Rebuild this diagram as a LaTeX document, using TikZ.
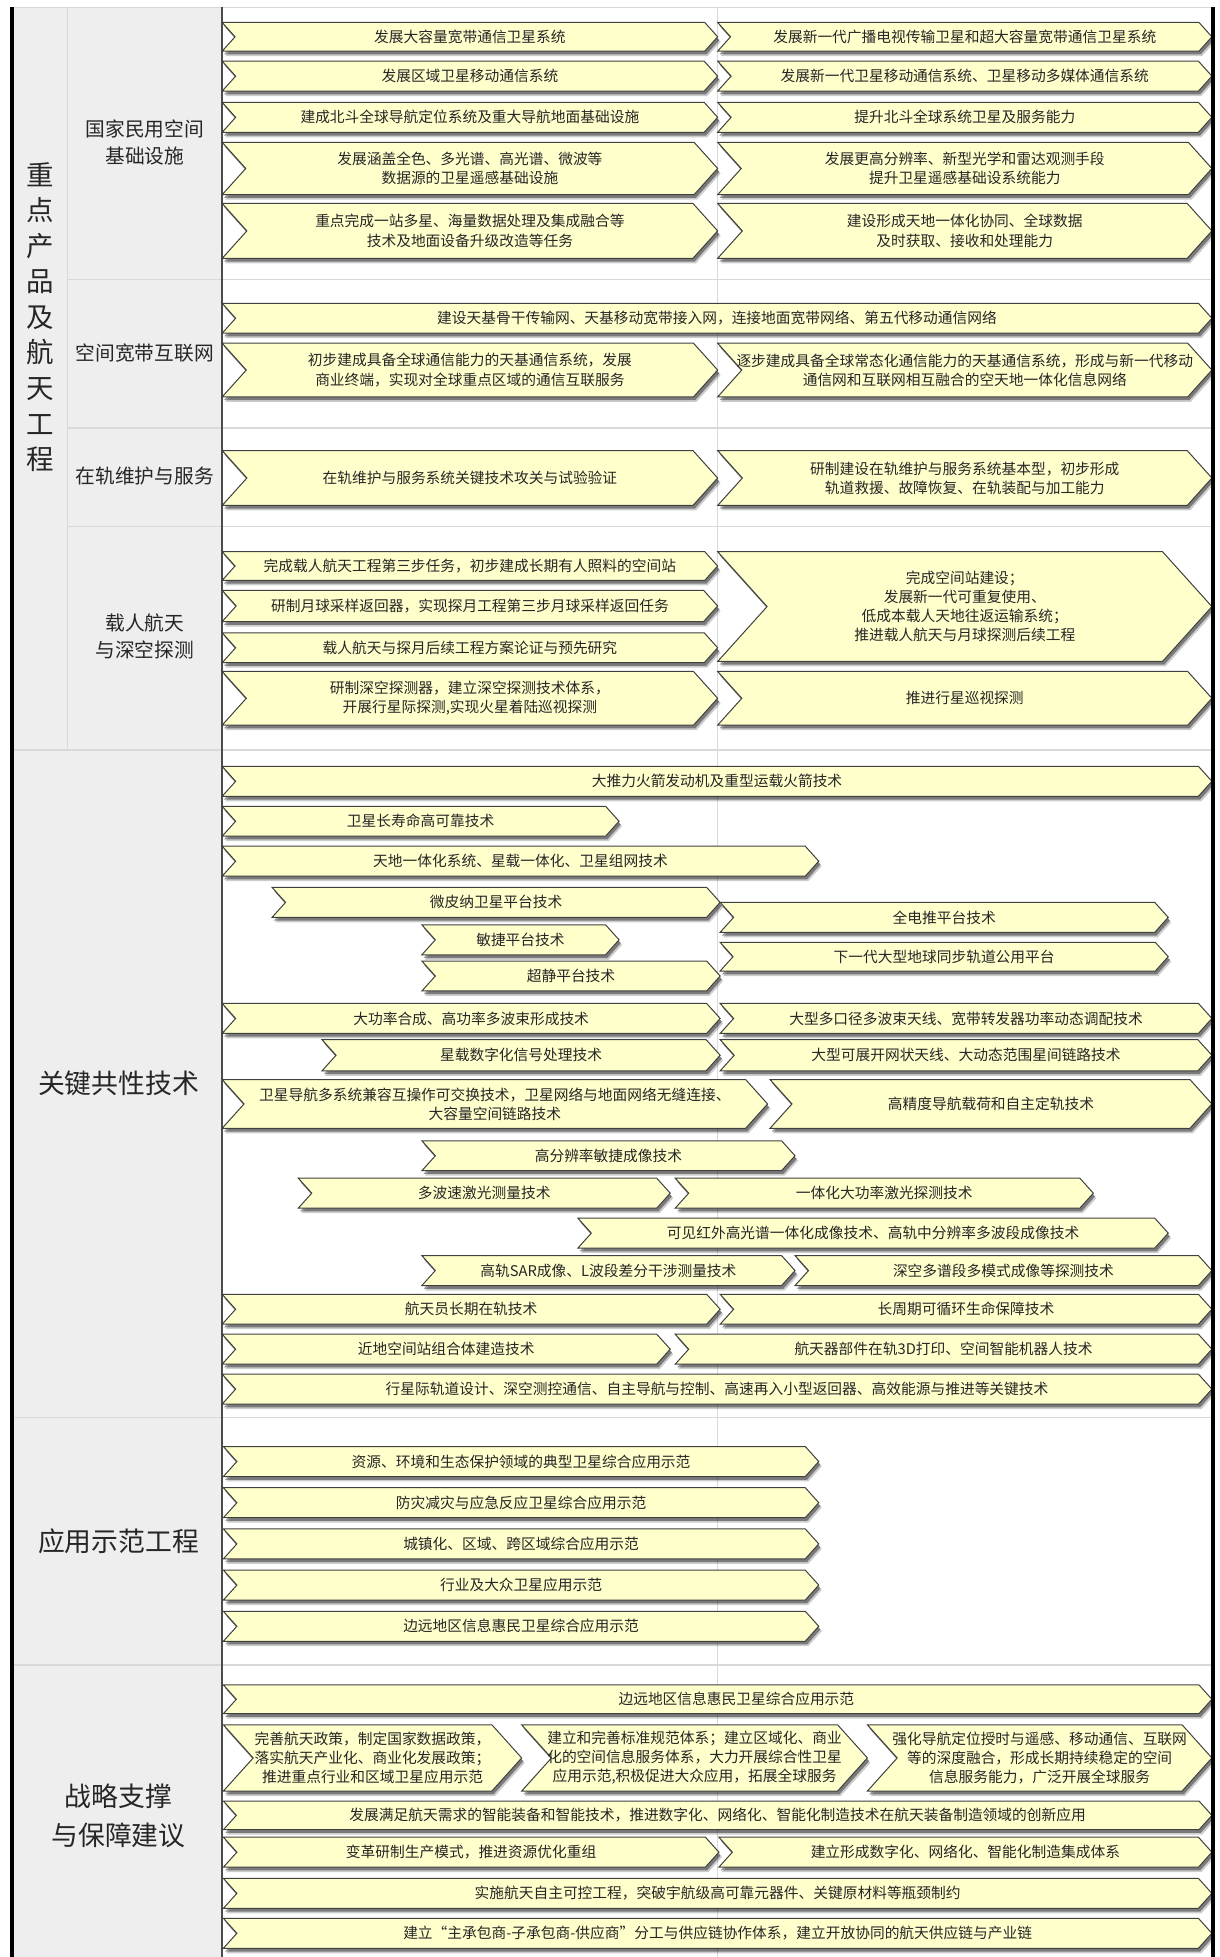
\documentclass[tikz,border=0pt]{standalone}
\usepackage{fontspec}
\setmainfont{Noto Sans CJK SC}
\definecolor{chevfill}{HTML}{FFFFCC}
\definecolor{colgray}{HTML}{EEEEEE}
\definecolor{gridgray}{HTML}{D9D9D9}
\definecolor{txtgray}{HTML}{262626}

\tikzset{
  chevbox/.style = {fill=chevfill, draw=black!75, line width=0.8pt, line join=miter},
  chevtext/.style = {align=center, inner sep=0pt, text=txtgray, font=\fontsize{11.8}{15.3}\selectfont},
  catlabel/.style = {align=center, inner sep=0pt, text=txtgray, font=\fontsize{21.5}{31}\selectfont},
  sublabel/.style = {align=center, inner sep=0pt, text=txtgray, font=\fontsize{15.8}{22}\selectfont},
  gridline/.style = {draw=gridgray, line width=1pt}
}

% [text shift]{name}{left}{right}{top}{bottom}{text}
\newcommand{\chev}[7][0]{%
  \pgfmathsetmacro{\chd}{0.45*(#6-#5)}%
  \pgfmathsetmacro{\chm}{0.5*(#5+#6)}%
  \foreach \sx/\sy/\so in {2.4/4/0.2, 1.4/2.6/0.4}{
    \fill[black, opacity=\so, shift={(\sx,\sy)}] (#3,#5) -- ({#4-\chd},#5) -- (#4,\chm) -- ({#4-\chd},#6) -- (#3,#6) -- ({#3+\chd},\chm) -- cycle;
  }
  \filldraw[chevbox] (#3,#5) -- ({#4-\chd},#5) -- (#4,\chm) -- ({#4-\chd},#6) -- (#3,#6) -- ({#3+\chd},\chm) -- cycle;
  \node[chevtext] (#2) at ({0.5*(#3+#4)+#1},\chm) {#7};
}

\begin{document}
\begin{tikzpicture}[x=1pt, y=-1pt]
    \useasboundingbox (0,0) rectangle (977,1568);
    \fill[colgray] (11,6) rectangle (178,1568);
    \draw[gridline] (11,6) -- (971,6);
    \draw[gridline] (54,6) -- (54,601);
    \draw[gridline] (54,224) -- (971,224);
    \draw[gridline] (54,343) -- (971,343);
    \draw[gridline] (54,422) -- (971,422);
    \draw[gridline] (11,601) -- (971,601);
    \draw[gridline] (11,1136) -- (971,1136);
    \draw[gridline] (11,1334) -- (971,1334);
    \draw[gridline] (575,6) -- (575,1568);
    \draw[black!70, line width=1.2pt] (178,6) -- (178,1568);

    \node[catlabel, font=\fontsize{22}{28.5}\selectfont] (cpgc) at (32,254) {重\\点\\产\\品\\及\\航\\天\\工\\程};
    \node[sublabel] (jcss) at (116,114) {国家民用空间\\基础设施};
    \node[sublabel] (kjhl) at (116,283) {空间宽带互联网};
    \node[sublabel] (zgwh) at (116,381) {在轨维护与服务};
    \node[sublabel] (zrht) at (116,510) {载人航天\\与深空探测};
    \node[catlabel] (gxjs) at (95,868) {关键共性技术};
    \node[catlabel] (yysf) at (95,1235) {应用示范工程};
    \node[catlabel] (zlzc) at (95,1455) {战略支撑\\与保障建议};

    \chev{jc1l}{178}{575}{18}{41}{发展大容量宽带通信卫星系统}
    \chev{jc1r}{575}{971}{18}{41}{发展新一代广播电视传输卫星和超大容量宽带通信卫星系统}
    \chev{jc2l}{178}{575}{49}{73}{发展区域卫星移动通信系统}
    \chev{jc2r}{575}{971}{49}{73}{发展新一代卫星移动通信系统、卫星移动多媒体通信系统}
    \chev{jc3l}{178}{575}{82}{106}{建成北斗全球导航定位系统及重大导航地面基础设施}
    \chev{jc3r}{575}{971}{82}{106}{提升北斗全球系统卫星及服务能力}
    \chev{jc4l}{178}{575}{114}{156}{发展涵盖全色、多光谱、高光谱、微波等\\数据源的卫星遥感基础设施}
    \chev{jc4r}{575}{971}{114}{156}{发展更高分辨率、新型光学和雷达观测手段\\提升卫星遥感基础设系统能力}
    \chev{jc5l}{178}{575}{163}{207}{重点完成一站多星、海量数据处理及集成融合等\\技术及地面设备升级改造等任务}
    \chev{jc5r}{575}{971}{163}{207}{建设形成天地一体化协同、全球数据\\及时获取、接收和处理能力}

    \chev{kj1}{178}{971}{243}{267}{建设天基骨干传输网、天基移动宽带接入网，连接地面宽带网络、第五代移动通信网络}
    \chev{kj2l}{178}{575}{275}{318}{初步建成具备全球通信能力的天基通信系统，发展\\商业终端，实现对全球重点区域的通信互联服务}
    \chev{kj2r}{575}{971}{275}{318}{逐步建成具备全球常态化通信能力的天基通信系统，形成与新一代移动\\通信网和互联网相互融合的空天地一体化信息网络}

    \chev{zg1l}{178}{575}{361}{405}{在轨维护与服务系统关键技术攻关与试验验证}
    \chev{zg1r}{575}{971}{361}{405}{研制建设在轨维护与服务系统基本型，初步形成\\轨道救援、故障恢复、在轨装配与加工能力}

    \chev{zr1}{178}{575}{442}{465}{完成载人航天工程第三步任务，初步建成长期有人照料的空间站}
    \chev{zr2}{178}{575}{473}{498}{研制月球采样返回器，实现探月工程第三步月球采样返回任务}
    \chev{zr3}{178}{575}{507}{531}{载人航天与探月后续工程方案论证与预先研究}
    \chev{zr4}{178}{575}{538}{581}{研制深空探测器，建立深空探测技术体系，\\开展行星际探测,实现火星着陆巡视探测}
    \chev{zr5}{575}{971}{442}{530}{完成空间站建设；\\发展新一代可重复使用、\\低成本载人天地往返运输系统；\\推进载人航天与月球探测后续工程}
    \chev{zr6}{575}{971}{538}{581}{推进行星巡视探测}

    \chev{gx1}{178}{971}{614}{638}{大推力火箭发动机及重型运载火箭技术}
    \chev{gx2}{178}{496}{646}{670}{卫星长寿命高可靠技术}
    \chev{gx3}{178}{656}{678}{702}{天地一体化系统、星载一体化、卫星组网技术}
    \chev{gx4}{218}{577}{711}{735}{微皮纳卫星平台技术}
    \chev{gx5}{577}{936}{723}{747}{全电推平台技术}
    \chev{gx6}{338}{496}{741}{765}{敏捷平台技术}
    \chev{gx7}{577}{936}{755}{778}{下一代大型地球同步轨道公用平台}
    \chev{gx8}{338}{577}{770}{794}{超静平台技术}
    \chev{gx9}{178}{577}{804}{828}{大功率合成、高功率多波束形成技术}
    \chev{gx10}{577}{971}{804}{828}{大型多口径多波束天线、宽带转发器功率动态调配技术}
    \chev{gx11}{258}{577}{833}{858}{星载数字化信号处理技术}
    \chev{gx12}{577}{971}{833}{858}{大型可展开网状天线、大动态范围星间链路技术}
    \chev{gx13}{178}{615}{865}{904}{卫星导航多系统兼容互操作可交换技术，卫星网络与地面网络无缝连接、\\大容量空间链路技术}
    \chev{gx14}{617}{971}{865}{904}{高精度导航载荷和自主定轨技术}
    \chev{gx15}{338}{637}{914}{938}{高分辨率敏捷成像技术}
    \chev{gx16}{239}{537}{944}{968}{多波速激光测量技术}
    \chev{gx17}{541}{876}{944}{968}{一体化大功率激光探测技术}
    \chev{gx18}{463}{936}{976}{1000}{可见红外高光谱一体化成像技术、高轨中分辨率多波段成像技术}
    \chev{gx19}{338}{637}{1006}{1030}{高轨SAR成像、L波段差分干涉测量技术}
    \chev{gx20}{637}{971}{1006}{1030}{深空多谱段多模式成像等探测技术}
    \chev{gx21}{178}{577}{1037}{1061}{航天员长期在轨技术}
    \chev{gx22}{577}{971}{1037}{1061}{长周期可循环生命保障技术}
    \chev{gx23}{178}{537}{1069}{1093}{近地空间站组合体建造技术}
    \chev{gx24}{541}{971}{1069}{1093}{航天器部件在轨3D打印、空间智能机器人技术}
    \chev{gx25}{178}{971}{1101}{1125}{行星际轨道设计、深空测控通信、自主导航与控制、高速再入小型返回器、高效能源与推进等关键技术}

    \chev{yy1}{179}{656}{1159}{1183}{资源、环境和生态保护领域的典型卫星综合应用示范}
    \chev{yy2}{179}{656}{1192}{1216}{防灾减灾与应急反应卫星综合应用示范}
    \chev{yy3}{179}{656}{1225}{1249}{城镇化、区域、跨区域综合应用示范}
    \chev{yy4}{179}{656}{1258}{1282}{行业及大众卫星应用示范}
    \chev{yy5}{179}{656}{1291}{1315}{边远地区信息惠民卫星综合应用示范}

    \chev[15]{zl1}{179}{971}{1350}{1373}{边远地区信息惠民卫星综合应用示范}
    \chev{zl2}{179}{418}{1382}{1435}{完善航天政策，制定国家数据政策，\\落实航天产业化、商业化发展政策；\\推进重点行业和区域卫星应用示范}
    \chev{zl3}{418}{695}{1382}{1435}{建立和完善标准规范体系；建立区域化、商业\\化的空间信息服务体系，大力开展综合性卫星\\应用示范,积极促进大众应用，拓展全球服务}
    \chev{zl4}{695}{971}{1382}{1435}{强化导航定位授时与遥感、移动通信、互联网\\等的深度融合，形成长期持续稳定的空间\\信息服务能力，广泛开展全球服务}
    \chev{zl5}{179}{971}{1443}{1466}{发展满足航天需求的智能装备和智能技术，推进数字化、网络化、智能化制造技术在航天装备制造领域的创新应用}
    \chev{zl6}{179}{576}{1472}{1496}{变革研制生产模式，推进资源优化重组}
    \chev{zl7}{576}{971}{1472}{1496}{建立形成数字化、网络化、智能化制造集成体系}
    \chev{zl8}{179}{971}{1505}{1529}{实施航天自主可控工程，突破宇航级高可靠元器件、关键原材料等瓶颈制约}
    \chev{zl9}{179}{971}{1537}{1561}{建立“主承包商-子承包商-供应商”分工与供应链协作体系，建立开放协同的航天供应链与产业链}

    \draw[black, line width=3pt] (9.5,6) -- (9.5,1568);
    \draw[black, line width=3pt] (971.7,6) -- (971.7,1568);
\end{tikzpicture}
\end{document}
